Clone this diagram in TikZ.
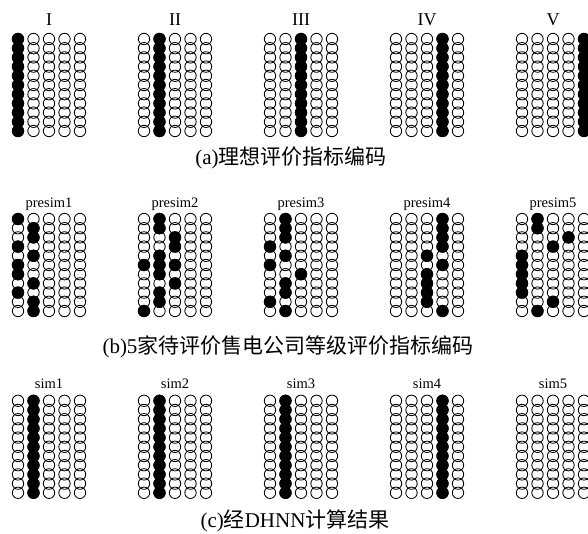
\documentclass[tikz,border=0pt]{standalone}
\usepackage{fontspec}
\setmainfont{Liberation Serif}
\newfontfamily\cjk{Noto Sans CJK SC}
\newcommand\rowpitch{9.2}
\newcommand\gridcells[2]{%
  \foreach \cc in {0,...,4}{\foreach \rr in {0,...,10}{%
    \draw[cell] ({#1+\cc*15.5},{#2+\rr*\rowpitch}) circle[radius=5.7pt];}}}
\newcommand\fillcells[3]{%
  \foreach \cc/\rr in {#3}{%
    \fill[black] ({#1+(\cc-1)*15.5},{#2+(\rr-1)*\rowpitch}) circle[radius=6.15pt];}}
\newcommand\fillcol[3]{%
  \foreach \rr in {1,...,11}{%
    \fill[black] ({#1+(#3-1)*15.5},{#2+(\rr-1)*\rowpitch}) circle[radius=6.15pt];}}
\begin{document}
\begin{tikzpicture}[x=1pt,y=-1pt,
  cell/.style={draw=black,line width=0.85pt},
  lab/.style={font=\fontsize{14.5}{16}\selectfont, anchor=base, inner sep=0pt},
  rom/.style={font=\fontsize{18}{20}\selectfont, anchor=base, inner sep=0pt},
  captext/.style={font=\fontsize{21}{24}\selectfont, inner sep=0pt}]
\useasboundingbox (0,0) rectangle (588,534);
\fill[white] (0,0) rectangle (588,534);
\begin{scope}
\clip (0,0) rectangle (588,534);
% row (a)
\foreach \gx in {18,144,270,396,522}{\gridcells{\gx}{39}}
\fillcol{18}{39}{1}
\fillcol{144}{39}{2}
\fillcol{270}{39}{3}
\fillcol{396}{39}{4}
\fillcol{522}{39}{5}
% row (b)
\foreach \gx in {18,144,270,396,522}{\gridcells{\gx}{219}}
\fillcells{18}{219}{1/1,1/4,1/6,1/7,1/9,2/2,2/3,2/5,2/8,2/10,2/11}
\fillcells{144}{219}{1/6,1/11,2/1,2/2,2/5,2/6,2/7,2/9,2/10,3/3,3/4,3/6,3/8}
\fillcells{270}{219}{1/4,1/6,1/10,2/1,2/2,2/3,2/5,2/8,2/9,2/11,3/7}
\fillcells{396}{219}{3/5,3/7,3/8,3/9,3/10,4/1,4/2,4/3,4/4,4/6,4/11}
\fillcells{522}{219}{1/5,1/6,1/7,1/8,1/9,2/1,2/2,2/11,3/4,3/10,4/3}
% row (c)
\foreach \gx in {18,144,270,396,522}{\gridcells{\gx}{400.8}}
\fillcol{18}{400.8}{2}
\fillcol{144}{400.8}{2}
\fillcol{270}{400.8}{2}
\fillcol{396}{400.8}{4}
\end{scope}
% labels
\node[rom] (r1) at (49,26) {I};
\node[rom] (r2) at (175,26) {II};
\node[rom] (r3) at (301,26) {III};
\node[rom] (r4) at (427,26) {IV};
\node[rom] (r5) at (553,26) {V};
\node[lab] (p1) at (49,208) {presim1};
\node[lab] (p2) at (175,208) {presim2};
\node[lab] (p3) at (301,208) {presim3};
\node[lab] (p4) at (427,208) {presim4};
\node[lab] (p5) at (553,208) {presim5};
\node[lab] (s1) at (49,388) {sim1};
\node[lab] (s2) at (175,388) {sim2};
\node[lab] (s3) at (301,388) {sim3};
\node[lab] (s4) at (427,388) {sim4};
\node[lab] (s5) at (553,388) {sim5};
\node[captext] (ca) at (291,158) {(a){\cjk 理想评价指标编码}};
\node[captext] (cb) at (288,347) {(b)5{\cjk 家待评价售电公司等级评价指标编码}};
\node[captext] (cc) at (295,521) {(c){\cjk 经}DHNN{\cjk 计算结果}};
\end{tikzpicture}
\end{document}
